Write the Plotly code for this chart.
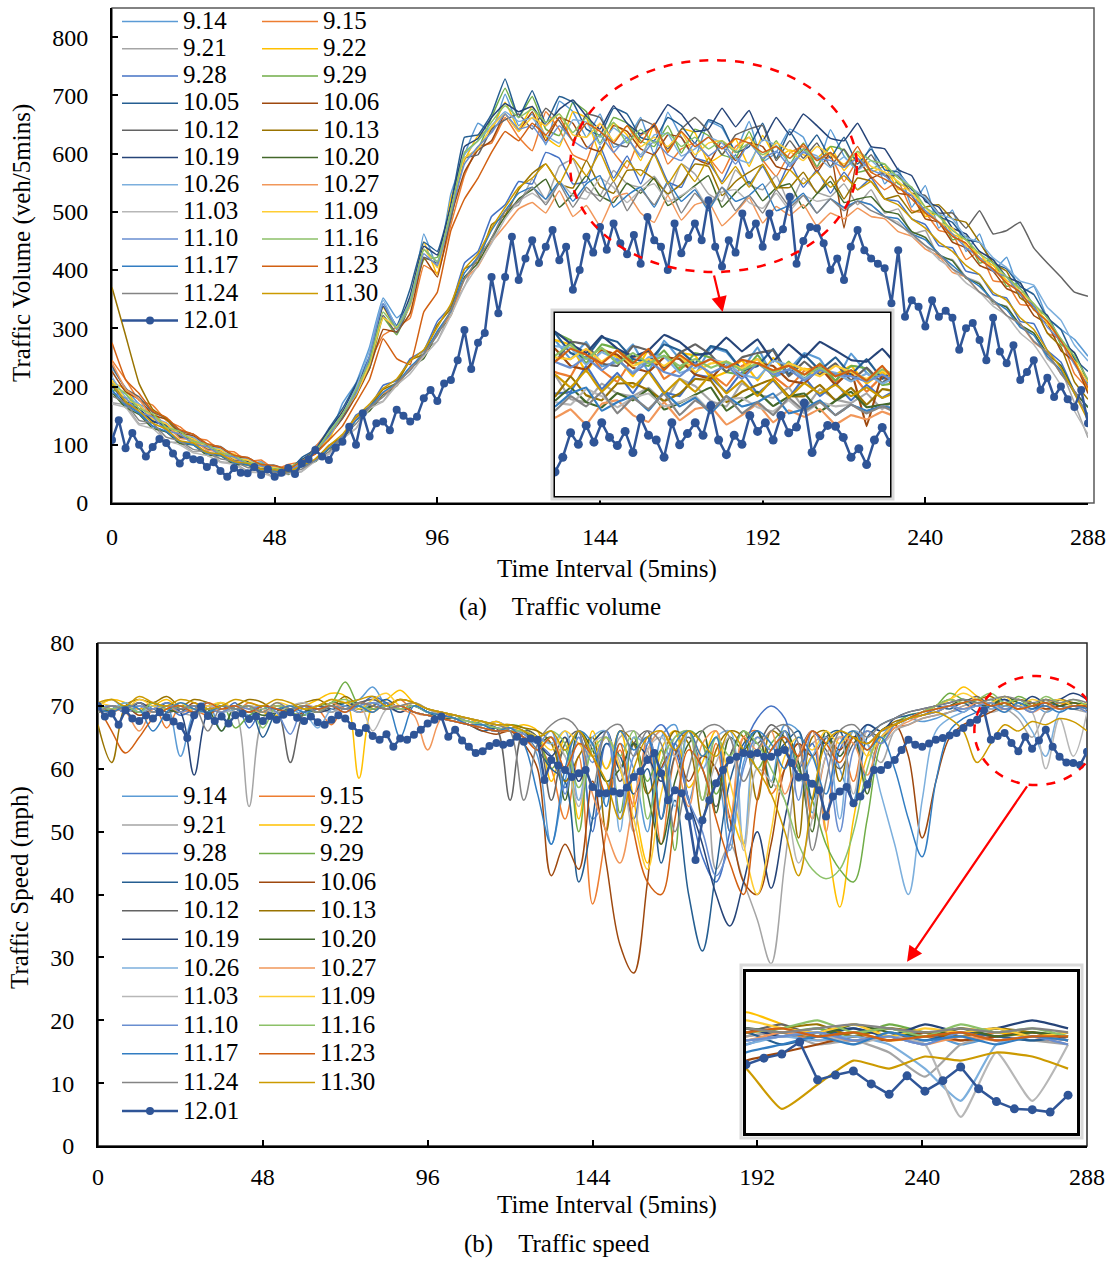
import plotly.graph_objects as go

W, H = 1108, 1261
FONT = "Liberation Serif"

# ---------------- categories / labels ----------------
labels = ["9.14", "9.15", "9.21", "9.22", "9.28", "9.29", "10.05", "10.06",
          "10.12", "10.13", "10.19", "10.20", "10.26", "10.27", "11.03", "11.09",
          "11.10", "11.16", "11.17", "11.23", "11.24", "11.30"]
colors = ["#5B9BD5", "#ED7D31", "#A5A5A5", "#FFC000", "#4472C4", "#70AD47",
          "#255E91", "#9E480E", "#636363", "#997300", "#264478", "#43682B",
          "#7CAFDD", "#F1975A", "#B7B7B7", "#FFCD33", "#698ED0", "#8CC168",
          "#327DC2", "#D26012", "#848484", "#CC9A00"]
last_label = "12.01"
last_color = "#2F5597"

x_bg = list(range(0, 289, 4))     # sampled time intervals for the reference days
x_last = list(range(0, 289, 2))   # sampled time intervals for 12.01
x_ticks = [0, 48, 96, 144, 192, 240, 288]
vol_ticks = [0, 100, 200, 300, 400, 500, 600, 700, 800]
spd_ticks = [0, 10, 20, 30, 40, 50, 60, 70, 80]

# ---------------- traffic volume (veh/5mins) ----------------
vol_9_14 = [232,198,170,158,131,125,104,101,85,82, 66,71,55,60,64,98,112,171,206,268,
            352,318,341,462,405,531,598,652,637,702, 648,668,615,690,672,628,668,611,622,662,
            598,671,628,592,655,644,604,655,586,602, 642,628,575,641,596,572,612,548,575,508,
            545,472,503,432,462,398,422,361,372,318, 298,281,252]
vol_9_15 = [245,212,176,168,142,131,112,108,90,88, 71,74,58,66,72,96,125,148,198,242,
            288,302,318,408,395,478,562,612,618,662, 628,605,672,641,598,588,652,602,575,631,
            645,582,608,618,594,566,612,628,589,561, 601,612,574,596,552,588,561,538,552,502,
            498,468,462,418,432,382,378,341,338,292, 281,222,196]
vol_9_21 = [172,168,136,138,105,104,88,90,71,69, 55,56,44,52,54,75,84,114,128,168,
            175,208,228,262,278,331,372,425,448,502, 512,556,521,578,590,535,528,571,548,542,
            561,528,582,565,531,518,572,546,538,562, 512,558,534,526,548,512,538,498,505,462,
            468,421,418,388,378,342,338,302,292,248, 228,172,112]
vol_9_22 = [208,195,162,158,128,126,104,102,84,84, 67,66,57,62,62,92,108,158,182,252,
            336,298,352,448,392,522,588,631,642,688, 642,681,628,612,672,661,598,652,632,588,
            651,604,642,636,584,598,625,578,631,592, 606,598,592,612,571,598,568,578,538,541,
            492,498,462,452,421,408,382,368,338,312, 278,248,192]
vol_9_28 = [202,171,156,132,122,106,101,86,84,67, 68,55,57,50,63,74,99,112,151,165,
            202,210,248,262,312,338,412,432,492,512, 552,548,602,592,548,552,612,558,596,548,
            602,552,542,591,585,552,598,548,578,538, 585,542,572,532,568,538,558,522,518,488,
            478,442,438,398,392,358,352,312,308,262, 242,192,165]
vol_9_29 = [194,188,155,150,126,122,101,98,82,81, 67,68,55,59,75,88,124,148,192,231,
            318,289,342,418,422,488,592,608,662,712, 662,698,642,631,688,672,618,662,652,622,
            612,648,601,642,631,598,592,638,588,622, 582,618,578,612,606,568,574,582,548,542,
            498,497,452,458,412,418,372,378,332,322, 272,258,205]
vol_10_05 = [212,174,168,142,132,114,112,94,91,74, 75,61,61,53,78,92,128,162,205,251,
             342,305,368,448,432,512,628,632,668,728, 662,708,652,698,688,642,632,678,668,628,
             622,662,648,618,658,648,602,612,652,592, 638,602,632,592,628,582,608,572,568,538,
             522,492,482,452,448,412,402,372,358,318, 298,248,226]
vol_10_06 = [226,191,178,151,144,121,115,98,95,79, 77,63,63,55,71,85,115,145,184,231,
             298,294,326,421,388,492,568,606,622,668, 638,672,622,662,652,612,604,648,638,608,
             598,632,628,592,582,622,588,618,612,578, 572,608,568,602,472,592,558,568,532,528,
             488,482,448,438,408,398,368,358,322,308, 262,242,188]
vol_10_12 = [236,196,182,156,146,124,118,101,97,81, 78,65,65,57,73,87,118,146,189,234,
             322,292,342,422,412,488,592,598,642,658, 668,642,678,656,622,668,662,618,612,658,
             648,608,642,662,638,598,632,642,648,588, 622,592,618,578,608,572,598,562,562,532,
             528,498,498,472,502,462,468,482,438,412, 388,362,355]
vol_10_13 = [370,288,205,161,145,116,108,92,88,73, 71,57,58,51,65,73,98,114,146,164,
             195,206,245,256,306,334,402,414,478,494, 538,566,582,548,541,588,544,532,571,572,
             556,531,548,582,578,528,552,568,581,542, 542,568,532,561,522,558,552,522,528,498,
             508,512,488,482,448,412,398,352,338,292, 268,208,178]
vol_10_19 = [204,172,162,140,134,112,110,93,90,72, 71,59,59,52,74,89,126,156,202,246,
             338,301,356,441,426,511,612,626,662,686, 672,681,648,676,692,664,642,682,652,634,
             648,684,668,638,642,678,646,674,622,662, 632,668,648,626,622,652,612,608,572,562,
             518,508,472,462,432,418,388,378,338,322, 278,258,208]
vol_10_20 = [190,164,152,128,122,102,100,82,81,67, 65,54,55,49,63,71,93,108,142,158,
             186,201,232,248,292,322,388,412,455,492, 522,538,556,508,531,562,528,516,549,532,
             558,511,526,545,562,508,533,552,519,541, 548,506,531,552,516,522,526,501,496,466,
             456,426,416,386,376,346,336,306,292,256, 236,191,164]
vol_10_26 = [216,182,170,146,138,118,113,97,93,77, 75,63,63,54,72,87,121,152,198,262,
             348,302,348,436,414,502,598,622,648,672, 655,661,632,618,658,654,615,644,626,598,
             632,634,596,608,628,618,592,584,624,614, 582,604,596,576,594,571,588,566,564,541,
             524,496,488,456,448,421,404,381,374,336, 314,271,244]
vol_10_27 = [241,196,178,146,136,111,108,91,88,72, 69,57,58,51,65,73,95,112,144,162,
             188,202,232,252,294,322,384,406,448,476, 505,516,498,536,492,511,476,524,532,498,
             482,528,486,512,518,476,498,524,481,509, 494,512,476,498,488,506,492,488,466,458,
             436,424,396,388,362,348,322,308,276,258, 222,192,148]
vol_11_03 = [170,164,134,128,107,100,86,82,70,66, 53,52,44,50,54,72,84,110,128,162,
             174,202,222,252,278,322,372,408,446,488, 518,532,516,552,528,522,558,542,516,538,
             548,518,528,542,506,534,538,516,506,532, 502,528,518,522,506,518,512,492,482,458,
             442,418,402,378,362,338,322,292,272,238, 202,158,118]
vol_11_09 = [211,178,168,144,136,118,110,95,91,76, 74,61,61,55,66,91,112,152,186,238,
             318,302,338,436,404,502,592,608,646,668, 638,662,648,668,632,628,652,622,648,612,
             628,612,636,598,618,622,606,628,592,618, 604,588,612,598,582,602,578,568,552,532,
             508,482,472,442,428,402,388,362,342,308, 282,242,208]
vol_11_10 = [190,180,156,148,124,119,101,97,83,79, 66,64,55,57,66,90,114,152,188,252,
             342,298,342,428,408,498,582,612,636,668, 642,648,618,648,622,608,632,602,628,594,
             622,598,588,618,596,612,582,618,592,604, 578,602,592,588,576,592,572,562,542,528,
             502,482,462,438,422,398,388,358,338,302, 278,238,202]
vol_11_16 = [204,188,162,153,130,123,106,101,86,82, 69,67,58,60,72,89,120,152,194,243,
             328,300,345,435,415,502,602,622,654,682, 662,676,654,668,636,662,628,654,618,642,
             618,636,612,628,608,622,602,618,598,612, 592,608,588,602,578,604,588,582,558,542,
             508,492,468,452,428,412,388,368,342,318, 282,252,212]
vol_11_17 = [194,168,154,132,123,105,100,85,82,69, 66,57,56,52,62,73,94,113,142,164,
             190,206,234,256,295,329,395,422,468,502, 532,542,522,552,518,548,562,508,528,542,
             508,552,518,538,502,542,518,528,548,502, 512,532,498,522,508,518,512,492,488,462,
             452,428,408,388,372,348,332,302,288,252, 228,188,152]
vol_11_23 = [275,212,188,158,147,126,118,102,96,82, 78,66,64,58,72,84,108,132,172,212,
             282,248,238,328,362,468,522,558,602,638, 622,652,632,662,622,652,638,618,648,618,
             652,602,638,612,628,608,626,618,602,612, 592,616,588,602,578,612,568,556,542,522,
             498,482,458,446,418,402,378,362,332,312, 278,242,198]
vol_11_24 = [184,172,142,137,113,107,92,88,76,72, 61,59,52,53,58,74,88,115,136,164,
             182,206,228,257,288,331,384,420,455,501, 518,542,512,548,508,542,518,552,502,538,
             512,548,498,532,508,542,502,528,498,538, 508,528,498,522,502,518,502,492,478,462,
             442,428,402,388,362,348,322,308,278,258, 222,192,148]
vol_11_30 = [204,174,158,137,127,107,103,87,84,71, 68,58,57,54,64,76,98,118,148,170,
             197,213,244,263,302,342,402,428,472,508, 542,558,582,548,592,562,602,552,588,562,
             598,548,582,552,592,548,578,542,582,538, 572,548,568,542,562,538,552,522,512,488,
             472,448,432,408,392,362,348,318,298,262, 232,188,142]
vol_12_01 = [108,142,94,120,100,80,96,110,103,85,68,82,75,74,62,70,55,45,60,52,
             51,62,48,58,45,52,60,50,68,75,91,80,74,95,105,131,100,154,114,137,
             140,125,160,150,140,148,180,194,175,205,211,245,297,230,275,292,388,326,388,457,
             383,420,451,412,440,469,417,440,366,400,457,430,474,435,480,446,427,460,411,491,
             451,440,400,480,429,455,480,451,520,440,406,451,430,497,460,480,440,497,457,470,
             526,411,450,474,472,446,400,420,383,440,469,434,420,411,403,343,434,320,348,337,
             303,348,320,330,318,263,300,309,280,245,318,260,240,271,211,225,245,194,215,182,
             200,178,165,194,137]

# ---------------- traffic speed (mph) ----------------
spd_9_14 = [70,71,69.5,70.5,69,70,62,69,70.5,66, 70,68.5,70,67.5,69.5,68.5,70,69,70.5,71,
            73,70,69.5,70,69,68.5,68,67.5,67,67.5, 66.5,66,
            62,48,58,65,52,56,64,60,50,65,67,55,62,60,47,61,66,58,67,66,53,66,60,55,67,66,
            67,68,67.5,68,69,69.5,70,71,69.5,70,70.5,69,70,69.5,70]
spd_9_15 = [70.5,69,70,69.5,70.5,66.5,70,69.5,68.5,70, 69,70.5,69.5,68,69,70,69.5,67,70,69,
            69.5,70,71,69,68.5,69,68,67.5,66.5,66, 67,65.5,
            64,60,52,62,38.5,50,63,54,65,48,62,66,55,64,50,65,66,56,60,64,52,62,65,58,66,64,
            66.5,67,68,68.5,69,70,70.5,69.5,70,71,70,69.5,70.5,70,69]
spd_9_21 = [69,70,69.5,70,69,70.5,69,68.5,69.5,70, 69,54,68,69.5,69,70,69.5,69,70,70.5,
            71,70,69,70.5,69.5,68.5,68,68,67,67.5, 66.5,66,
            65,64,62,55,64,60,65,66,63,52,65,66,64,44,48,42,36,29,45,60,64,65,62,66,64,61,
            66,67,68,68.5,69,70,70.5,69,69.5,68,65,69,70,69.5,69]
spd_9_22 = [70,71,70.5,69.5,70,71,69.5,70,69,70.5, 69.5,70,69,68.5,69.5,70,71,72,71.5,58.5,
            70,71,72.5,70.5,69.5,69,68.5,68,67,67.5, 66.5,67,
            66,58,65,52,66,60,66,55,45,63,66,57,61,66,54,48,65,63,66,58,62,50,38,52,62,66,
            67,68,69,70,71,73,71.5,70,70.5,69.5,70,71,70.5,70,70]
spd_9_28 = [69.5,70,69,70.5,69,70,68.5,69.5,70,69, 70.5,66.5,69.5,68,69,70,69,70.5,69.5,70,
            71.5,70.5,69.5,70,69,68.5,68,67.5,67,66.5, 66,65.5,
            64,62,57,66,50,64,60,52,64,67,63,55,46,42,50,63,68,70,68,60,64,53,63,66,58,65,
            67,68,68.5,69.5,70,69,70.5,70,69.5,70,69,70.5,69.5,70,69.5]
spd_9_29 = [70,69.5,70.5,69,70,69.5,70,69,69.5,70.5, 66.5,68.5,69.5,70,69,68.5,70,70.5,73.8,70,
            69,70.5,69.5,70,69,68,68.5,67,67.5,66, 67,66.5,
            65,60,63,50,64,66,53,65,58,63,47,66,64,56,62,66,60,64,66,60,55,48,44,42,52,64,
            67,68.5,69,70,72,71,70.5,71,70,71.5,70.5,70,71,70,70.5]
spd_10_05 = [69,70,69.5,70,69,70.5,69.5,69,70,69.5, 69,70,65,69,69.5,70,69,70.5,70,69.5,
             70,71,69.5,70,69,68,67.5,67,66,66.5, 66,65,
             63,60,58,42,52,64,62,56,60,45,55,40,31,44,58,64,66,62,64,66,55,65,66,54,65,67,
             68,68.5,69,70,69.5,70.5,69,70,71,70,69.5,70.5,70,69.5,70]
spd_10_06 = [69.5,69,70,68.5,69.5,70,69,70.5,69,69.5, 70,69,70,69.5,68.5,69,70,69.5,70,69,
             70.5,69.5,70,69,68.5,68,67.5,67,66,65.5, 66,64,
             60,43,48,44,58,45,32,27.5,42,60,63,58,62,60,52,42,40,48,60,64,62,65,63,66,64,66,
             67,62,49,58,65,67,68,69,70,69.5,70.5,69.5,70,70.5,69.5]
spd_10_12 = [69,70,69.5,69,70.5,69,69.5,70,69,70, 69.5,70,69,69.5,61,69,70,69.5,70,70.5,
             71,70,69.5,70,69,68.5,68,67.5,67,66.5, 55,66,
             65,55,64,66,62,65,58,64,66,52,62,65,60,54,62,66,64,67,65,62,66,63,60,64,66,65,
             67,68,68.5,69,70,70.5,71.5,70,70.5,71,70,70.5,71,70,70.5]
spd_10_13 = [67,61,70,71,70.5,71.5,70,71,70.5,69.5, 70,71,70.5,69,70,70.5,71,70,71.5,70,
             69.5,70,71,70.5,69.5,69,68.5,68,67.5,67, 67,66.5,
             66,64,58,62,65,50,66,64,56,61,66,64,52,63,66,65,55,66,64,49,65,66,58,65,64,66,
             67.5,68,69,70,71,70.5,71,71.5,70,71,70.5,70,71,70.5,70]
spd_10_19 = [69.5,70,69,70.5,69.5,70,69,59,69,70, 69.5,69,70,69.5,69,70,69,69.5,70,70.5,
             69.5,70,69,70,69,68.5,68,67,66.5,66, 66.5,65,
             64,62,65,58,64,66,60,64,62,58,64,55,48,40,35,42,50,41,52,62,66,64,66,65,67,66,
             68,69,69.5,70,70.5,71,70,70.5,71,70,71.5,70.5,71,72,71]
spd_10_20 = [69,69.5,70,69,70.5,69.5,69,70,69.5,66, 70,69.5,68.5,69,70,69.5,69,70,70.5,69.5,
             70,69.5,70,69,68.5,68,68,67,67,66, 66.5,66,
             64,65,55,66,63,58,60,64,56,48,58,64,66,53,65,63,66,57,66,61,50,66,62,65,56,66,
             67,68,69,69.5,70,71,70.5,70,71.5,70.5,70,71,70,70.5,70]
spd_10_26 = [70,69.5,70.5,69,70,69.5,70,69,70.5,69, 69.5,70,69,70,69.5,69,66.5,69.5,70,69,
             70.5,70,69.5,70,69,68.5,68,67.5,67,66.5, 66,66,
             65,64,66,55,65,66,50,65,64,66,54,66,60,65,66,48,65,63,66,58,62,65,52,66,64,56,
             48,40,55,66,68,69,70,69.5,70,69,66,62,69,70,69.5]
spd_10_27 = [70,69.5,69,66,69.5,70,69,69.5,70,69, 70,69.5,69,70,69.5,70,69,70.5,69.5,70,
             69,70.5,69.5,68.5,63,68,68,67,66.5,66, 66.5,65,
             63,65,60,64,56,50,45,55,63,66,62,54,64,66,52,65,63,66,56,62,66,50,65,64,59,65,
             66.5,67.5,68.5,69,70,69.5,70.5,70,69.5,70,69,70,69.5,70,69.5]
spd_11_03 = [69,70,69.5,70,69,69.5,70,69,70,69.5, 69,70,69.5,69,70,70.5,69.5,70,69,70.5,
             66,69.5,70,69,68.5,68,67.5,67.5,66.5,66, 66,65.5,
             63,65,62,54,64,65,61,50,63,65,62,66,55,61,65,47,60,58,55,45,52,62,65,56,66,64,
             66,68,69,69.5,70,69.5,70,70.5,69,70,69,60,68,62,69]
spd_11_09 = [70.5,70,69.5,71,70,69.5,70.5,69,70,70.5, 69.5,70,69,70.5,70,69.5,70,71,70.5,69.5,
             71,72,70,70.5,69.5,69,68.5,68,67.5,67, 66.5,66,
             65,63,66,64,62,65,60,52,44,56,64,66,62,65,58,48,40,50,62,65,63,66,64,66,62,65,
             67,68,69,70,71,72,71,70.5,71.5,70,71,70.5,71,70,70.5]
spd_11_10 = [69.5,70,69,70,69.5,70.5,69,70,69.5,69, 70,69.5,70,69,65.5,70,69.5,70,69,70,
             70.5,69.5,70,69,68.5,68,67.5,67,66.5,66, 66.5,65.5,
             64,66,56,65,61,66,52,62,65,60,64,55,50,43,48,60,65,63,66,55,66,62,50,63,66,64,
             67,68,68.5,69,70,69.5,70,70.5,69.5,70,69,70.5,69.5,70,69]
spd_11_16 = [70,69.5,70,69,70.5,69.5,70,69.5,69,70, 69.5,70,66.5,70,69.5,70,69,70.5,71,70,
             69.5,70,69.5,70,69,68.5,68,67.5,67,66.5, 66,66,
             65,66,64,57,63,65,62,66,52,61,65,66,55,65,62,66,64,60,55,48,44,42.5,44,50,60,66,
             67,68,69,70,71,70.5,71,72,70.5,71,70,71.5,70.5,71,70]
spd_11_17 = [69.5,69,70,69.5,66,69,70.5,69.5,69,70, 69.5,69,70,69.5,70,69,69.5,70,69.5,70,
             69,70.5,65,70,69,68.5,68,67,67,66, 66.5,64,
             56,48,60,66,64,54,66,63,65,52,64,66,62,65,50,63,66,64,60,65,62,56,64,66,63,65,
             60,52,46,58,66,68,69,70,69,70.5,69.5,70,69,70,69.5]
spd_11_23 = [70,66,62.5,65,68,69.5,70,69,70.5,69.5, 70,69,70,69.5,69,70,69.5,70,69,70.5,
             70,69.5,70,69,68.5,68,67.5,67,66.5,66, 66,65,
             63,65,60,64,62,56,64,50,42,40,52,63,60,52,45,40,55,63,65,62,66,64,61,65,63,66,
             67,68,69,69.5,70,70.5,71,70,70.5,69.5,70,70.5,69.5,70,70]
spd_11_24 = [69,70,69.5,70.5,69,70,69.5,70,66,70, 69.5,70,69,70.5,69.5,70,69,70,69.5,70.5,
             70,69.5,70,70.5,69.5,69,68.5,68,67.5,67, 66,55,
             64,67,68,66,57,66,67,62,66,64,50,60,66,67,65,58,63,66,67,64,47,58,66,67,65,67,
             68,69,69.5,70,70.5,71,70.5,71,71.5,71,70.5,71,70.5,71,70.5]
spd_11_30 = [70.5,71,70,71.5,70.5,70,71,70.5,69.5,70, 71,70.5,70,71,70.5,69.5,70,71,70.5,71,
             71.5,70,71,70.5,69.5,69,68.5,68,67.5,67, 67,66,
             65,66,63,66,62,58,52,60,65,66,63,66,64,62,66,63,60,56,50,43,55,64,66,65,64,66,
             67,68,68.5,69,68,66,61,64,67,66,67.5,67,68,67.5,66]
spd_12_01 = [70.0,68.3,68.8,67.0,69.3,68.0,67.6,68.5,68.0,69.0,68.2,67.5,66.8,64.9,68.5,69.9,68.4,67.6,68.3,67.2,
             68.5,68.8,67.9,68.3,67.6,68.4,67.8,68.6,69.0,68.1,67.6,68.3,67.4,67.0,67.8,68.5,68.0,66.8,65.7,66.5,
             65.2,64.6,65.5,63.5,64.8,64.6,65.4,66.2,67.2,67.8,68.3,65.1,66.2,64.5,63.5,62.5,62.8,63.6,64.1,63.8,
             64.1,65.1,64.3,64.8,64.6,58.2,61.4,60.5,59.8,58.7,59.3,59.8,57.1,56.1,56.1,56.4,56.1,57.0,58.7,59.6,
             61.4,62.5,59.3,55.0,56.6,56.1,52.4,45.5,51.8,55.0,57.7,59.8,61.4,61.9,62.5,62.3,62.5,61.9,61.9,62.6,
             63.0,60.9,58.7,58.7,57.6,56.6,52.4,55.6,56.4,57.1,54.5,55.6,57.5,59.8,59.8,60.6,61.4,63.0,64.6,63.8,
             63.5,64.0,64.6,64.9,65.3,65.7,66.5,67.3,67.8,69.3,64.6,65.2,65.7,64.1,62.8,65.1,63.2,64.5,66.2,63.5,
             61.9,61.0,60.9,60.6,62.7]

volume = [vol_9_14, vol_9_15, vol_9_21, vol_9_22, vol_9_28, vol_9_29, vol_10_05, vol_10_06,
          vol_10_12, vol_10_13, vol_10_19, vol_10_20, vol_10_26, vol_10_27, vol_11_03, vol_11_09,
          vol_11_10, vol_11_16, vol_11_17, vol_11_23, vol_11_24, vol_11_30]
speed = [spd_9_14, spd_9_15, spd_9_21, spd_9_22, spd_9_28, spd_9_29, spd_10_05, spd_10_06,
         spd_10_12, spd_10_13, spd_10_19, spd_10_20, spd_10_26, spd_10_27, spd_11_03, spd_11_09,
         spd_11_10, spd_11_16, spd_11_17, spd_11_23, spd_11_24, spd_11_30]


def fx(px):
    return px / W


def fy(py):
    return 1 - py / H


def legend_name(lab):
    return '<span style="font-size:25px">' + lab + '</span>'


fig = go.Figure()

# panel definitions: (data, last series, main axes, inset axes, legends, smoothing)
panels = [
    (volume, vol_12_01, ("x", "y"), ("x3", "y3"), ("legend", "legend2"), 0.3),
    (speed, spd_12_01, ("x2", "y2"), ("x4", "y4"), ("legend3", "legend4"), 1.0),
]

for data, last, (mx, my), (ix, iy), (lg1, lg2), smooth in panels:
    for i, (lab, col, ys) in enumerate(zip(labels, colors, data)):
        fig.add_trace(go.Scatter(
            x=x_bg, y=ys, name=legend_name(lab), mode="lines", xaxis=mx, yaxis=my,
            line=dict(color=col, width=1.5, shape="spline", smoothing=smooth),
            legend=lg1 if i % 2 == 0 else lg2, showlegend=True))
    fig.add_trace(go.Scatter(
        x=x_last, y=last, name=legend_name(last_label), mode="lines+markers",
        xaxis=mx, yaxis=my, line=dict(color=last_color, width=2.5),
        marker=dict(color=last_color, size=8), legend=lg1, showlegend=True))
    # inset (zoomed copy)
    for lab, col, ys in zip(labels, colors, data):
        fig.add_trace(go.Scatter(
            x=x_bg, y=ys, name=lab, mode="lines", xaxis=ix, yaxis=iy,
            line=dict(color=col, width=2.2, shape="spline", smoothing=smooth * 0.5),
            showlegend=False, hoverinfo="skip"))
    fig.add_trace(go.Scatter(
        x=x_last, y=last, name=last_label, mode="lines+markers", xaxis=ix, yaxis=iy,
        line=dict(color=last_color, width=2.5), marker=dict(color=last_color, size=9),
        showlegend=False, hoverinfo="skip"))

tickfont = dict(family=FONT, size=24, color="black")
main_axis = dict(showline=True, linecolor="black", linewidth=2, ticks="inside",
                 ticklen=6, tickwidth=1.5, tickcolor="black", showgrid=False,
                 zeroline=False, tickfont=tickfont, automargin=False)
inset_axis = dict(showline=True, mirror=True, linecolor="black", linewidth=2.5,
                  ticks="", showticklabels=False, showgrid=False, zeroline=False,
                  automargin=False)

legend_common = dict(bgcolor="rgba(0,0,0,0)", borderwidth=0, xanchor="left",
                     yanchor="top", itemwidth=56, orientation="v", tracegroupgap=0)

fig.update_layout(
    width=W, height=H,
    margin=dict(l=0, r=0, t=0, b=0),
    paper_bgcolor="white", plot_bgcolor="white",
    font=dict(family=FONT, size=24, color="black"),
    xaxis=dict(main_axis, domain=[fx(112), fx(1088)], range=[0, 288], anchor="y",
               tickvals=x_ticks, ticklabelstandoff=11),
    yaxis=dict(main_axis, domain=[fy(503), fy(8)], range=[0, 850], anchor="x",
               tickvals=vol_ticks, ticklabelstandoff=17),
    xaxis2=dict(main_axis, domain=[fx(98), fx(1087)], range=[0, 288], anchor="y2",
                tickvals=x_ticks, ticklabelstandoff=8),
    yaxis2=dict(main_axis, domain=[fy(1146), fy(643)], range=[0, 80], anchor="x2",
                tickvals=spd_ticks, ticklabelstandoff=17),
    xaxis3=dict(inset_axis, domain=[fx(555), fx(890)], range=[136, 222], anchor="y3"),
    yaxis3=dict(inset_axis, domain=[fy(496), fy(313)], range=[310, 735], anchor="x3"),
    xaxis4=dict(inset_axis, domain=[fx(746), fx(1077)], range=[252, 289], anchor="y4"),
    yaxis4=dict(inset_axis, domain=[fy(1133), fy(972)], range=[58, 78], anchor="x4"),
    legend=dict(legend_common, x=fx(117), y=fy(3), font=dict(family=FONT, size=18.6, color="black")),
    legend2=dict(legend_common, x=fx(257), y=fy(3), font=dict(family=FONT, size=18.6, color="black")),
    legend3=dict(legend_common, x=fx(117), y=fy(777), font=dict(family=FONT, size=19.7, color="black")),
    legend4=dict(legend_common, x=fx(254), y=fy(777), font=dict(family=FONT, size=19.7, color="black")),
)

shapes = [
    dict(type="rect", xref="paper", yref="paper", x0=fx(112), x1=fx(1094), y0=fy(503), y1=fy(8),
         line=dict(color="#595959", width=1.5), layer="below"),
    dict(type="rect", xref="x2 domain", yref="y2 domain", x0=0, x1=1, y0=0, y1=1,
         line=dict(color="#262626", width=1.5), layer="below"),
    dict(type="rect", xref="paper", yref="paper", x0=fx(552), x1=fx(893), y0=fy(499), y1=fy(310),
         line=dict(color="#D9D9D9", width=3), layer="above"),
    dict(type="rect", xref="paper", yref="paper", x0=fx(741), x1=fx(1082), y0=fy(1138), y1=fy(965),
         line=dict(color="#D9D9D9", width=3), layer="above"),
    dict(type="circle", xref="x", yref="y", x0=135.2, x1=219.8, y0=396.6, y1=760.5,
         line=dict(color="red", width=2.5, dash="dash"), layer="above"),
    dict(type="circle", xref="x2", yref="y2", x0=255.2, x1=291.2, y0=57.4, y1=74.75,
         line=dict(color="red", width=2.5, dash="dash"), layer="above"),
]
fig.update_layout(shapes=shapes)

txt = dict(family=FONT, size=25, color="black")
annotations = [
    dict(x=fx(22), y=fy(243), xref="paper", yref="paper", text="Traffic Volume (veh/5mins)",
         textangle=-90, showarrow=False, font=txt, xanchor="center", yanchor="middle"),
    dict(x=fx(607), y=fy(569), xref="paper", yref="paper", text="Time Interval (5mins)",
         showarrow=False, font=txt, xanchor="center", yanchor="middle"),
    dict(x=fx(560), y=fy(607), xref="paper", yref="paper",
         text="(a)\u00a0\u00a0\u00a0\u00a0Traffic volume",
         showarrow=False, font=txt, xanchor="center", yanchor="middle"),
    dict(x=fx(20), y=fy(888), xref="paper", yref="paper", text="Traffic Speed (mph)",
         textangle=-90, showarrow=False, font=txt, xanchor="center", yanchor="middle"),
    dict(x=fx(607), y=fy(1205), xref="paper", yref="paper", text="Time Interval (5mins)",
         showarrow=False, font=txt, xanchor="center", yanchor="middle"),
    dict(x=fx(557), y=fy(1244), xref="paper", yref="paper",
         text="(b)\u00a0\u00a0\u00a0\u00a0Traffic speed",
         showarrow=False, font=txt, xanchor="center", yanchor="middle"),
    dict(x=180.2, y=328, xref="x", yref="y", ax=-9, ay=-38, text="", showarrow=True,
         arrowhead=2, arrowsize=1.4, arrowwidth=2.2, arrowcolor="red"),
    dict(x=235.6, y=29.3, xref="x2", yref="y2", ax=121, ay=-177, text="", showarrow=True,
         arrowhead=2, arrowsize=1.4, arrowwidth=2.2, arrowcolor="red"),
]
fig.update_layout(annotations=annotations)

fig.write_html("out.html", config={"displayModeBar": False},
               post_script="document.body.style.margin='0px';document.body.style.overflow='hidden';")
